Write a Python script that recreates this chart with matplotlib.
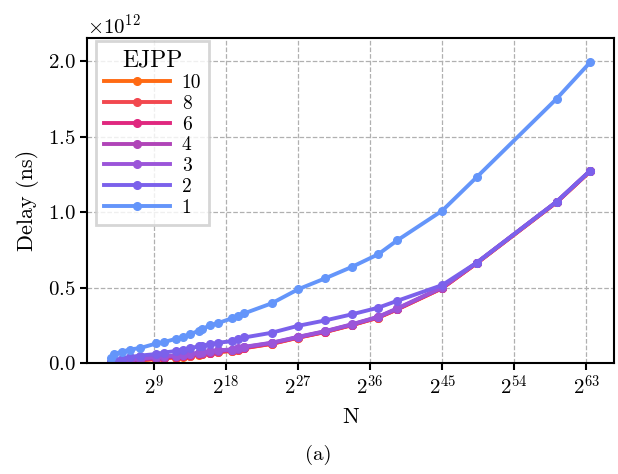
import matplotlib
matplotlib.use("Agg")
import matplotlib.pyplot as plt
import numpy as np

plt.rcParams['font.family'] = 'serif'
plt.rcParams['font.serif'] = ['cmr10']
plt.rcParams['mathtext.fontset'] = 'cm'
plt.rcParams['axes.formatter.use_mathtext'] = True
plt.rcParams['axes.unicode_minus'] = False

# log2(N) values
log2_n = [3.6, 4.0, 5.0, 6.0, 7.3, 9.3, 10.3, 11.7, 12.6, 13.5, 14.6, 15.0, 16.0, 17.0,
          18.7, 19.5, 20.3, 23.7, 27.0, 30.4, 33.7, 37.0, 39.4, 45.0, 49.3, 59.3, 63.5]

# Delay in units of 1e12 ns
delay_1 = [0.035, 0.06, 0.075, 0.09, 0.10, 0.13, 0.14, 0.16, 0.175, 0.19, 0.215, 0.225, 0.25, 0.265,
           0.296, 0.314, 0.330, 0.396, 0.489, 0.562, 0.637, 0.721, 0.814, 1.010, 1.232, 1.753, 1.995]
delay_2 = [0.01, 0.02, 0.03, 0.04, 0.05, 0.06, 0.07, 0.08, 0.09, 0.10, 0.11, 0.115, 0.125, 0.135,
           0.145, 0.157, 0.170, 0.201, 0.247, 0.283, 0.323, 0.367, 0.413, 0.517, 0.665, 1.070, 1.276]
delay_3 = [0.005, 0.01, 0.015, 0.02, 0.03, 0.04, 0.045, 0.05, 0.055, 0.06, 0.07, 0.072, 0.078, 0.085,
           0.09, 0.097, 0.108, 0.135, 0.174, 0.212, 0.257, 0.307, 0.363, 0.502, 0.665, 1.070, 1.276]
delay_4 = [0.004, 0.008, 0.013, 0.018, 0.027, 0.037, 0.042, 0.047, 0.052, 0.057, 0.066, 0.069, 0.075, 0.082,
           0.088, 0.095, 0.106, 0.133, 0.172, 0.210, 0.255, 0.305, 0.360, 0.500, 0.664, 1.069, 1.275]
delay_6 = [0.003, 0.006, 0.010, 0.014, 0.022, 0.032, 0.037, 0.042, 0.047, 0.052, 0.061, 0.064, 0.070, 0.077,
           0.084, 0.091, 0.102, 0.130, 0.170, 0.208, 0.253, 0.303, 0.358, 0.498, 0.663, 1.068, 1.274]
delay_8 = [0.002, 0.005, 0.008, 0.012, 0.019, 0.029, 0.034, 0.039, 0.044, 0.049, 0.058, 0.061, 0.067, 0.074,
           0.082, 0.089, 0.100, 0.128, 0.169, 0.207, 0.252, 0.302, 0.357, 0.497, 0.662, 1.067, 1.273]
delay_10 = [0.002, 0.004, 0.007, 0.011, 0.017, 0.027, 0.032, 0.037, 0.042, 0.047, 0.056, 0.059, 0.065, 0.072,
            0.080, 0.088, 0.099, 0.127, 0.168, 0.206, 0.251, 0.301, 0.356, 0.496, 0.661, 1.066, 1.272]

ejpp_labels = ['10', '8', '6', '4', '3', '2', '1']
series = [delay_10, delay_8, delay_6, delay_4, delay_3, delay_2, delay_1]
colors = ['#FF6A13', '#F2484F', '#E0287F', '#B044B8', '#9B55D9', '#7B61EB', '#6495FA']

x_tick_exps = [9, 18, 27, 36, 45, 54, 63]
y_ticks = [0.0, 0.5, 1.0, 1.5, 2.0]

fig = plt.figure(figsize=(6.18, 4.74), dpi=100)
ax = fig.add_axes([0.141, 0.234, 0.853, 0.686])

n_vals = np.power(2.0, np.array(log2_n))
for lab, vals, c in zip(ejpp_labels, series, colors):
    ax.plot(n_vals, np.array(vals) * 1e12, color=c, lw=2.8, marker='o', ms=5.5, label=lab)

ax.set_xscale('log', base=2)
ax.set_xticks([2.0 ** e for e in x_tick_exps])
ax.set_xticklabels([r'$2^{%d}$' % e for e in x_tick_exps])
ax.minorticks_off()
ax.set_xlim(2 ** 0.66, 2 ** 66.5)
ax.set_ylim(0, 2.156e12)
ax.set_yticks([v * 1e12 for v in y_ticks])
ax.ticklabel_format(axis='y', style='sci', scilimits=(0, 0), useMathText=True)
ax.yaxis.get_offset_text().set_fontsize(15)

ax.grid(True, linestyle='--', color='#b0b0b0', lw=0.9)
ax.set_axisbelow(True)
for sp in ax.spines.values():
    sp.set_linewidth(1.5)
ax.tick_params(labelsize=15, width=1.5, length=5)
ax.set_xlabel('N', fontsize=16, labelpad=6)
ax.set_ylabel('Delay (ns)', fontsize=16, labelpad=6)

leg = ax.legend(title='EJPP', loc='upper left', bbox_to_anchor=(0.017, 0.99),
                fontsize=14, title_fontsize=17,
                handlelength=3.4, handletextpad=0.6, fancybox=False, framealpha=0.8,
                borderpad=0.4, labelspacing=0.15, borderaxespad=0.0)
leg.get_frame().set_edgecolor('#cccccc')
leg.get_frame().set_linewidth(2)

fig.text(0.515, 0.04, '(a)', ha='center', va='center', fontsize=15)

fig.savefig('out.png', dpi=100)
